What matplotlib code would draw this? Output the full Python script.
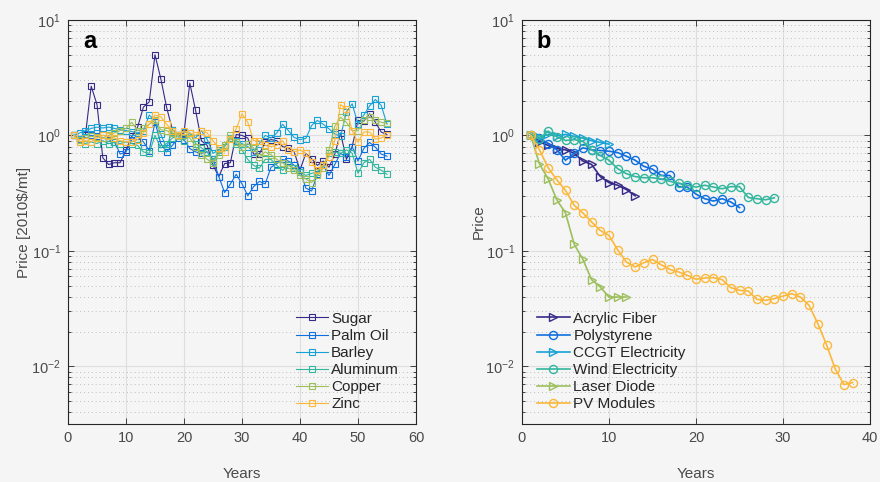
import numpy as np
import matplotlib
matplotlib.use("Agg")
import matplotlib.pyplot as plt
from matplotlib.ticker import LogLocator, NullFormatter, FixedLocator

plt.rcParams['font.family'] = ['Liberation Sans', 'DejaVu Sans']
plt.rcParams['mathtext.fontset'] = 'custom'
plt.rcParams['mathtext.rm'] = 'Liberation Sans'

# ---------------- Panel a data (years 1..55) ----------------
years_a = list(range(1, 56))
sugar = [1.00, 0.93, 1.00, 2.67, 1.85, 0.64, 0.56, 0.58, 0.58, 0.75,
         0.98, 1.18, 1.76, 1.95, 5.00, 3.10, 1.75, 1.12, 1.00, 1.05,
         2.84, 1.65, 0.90, 0.82, 0.55, 0.44, 0.57, 0.58, 1.02, 1.00,
         0.95, 0.69, 0.69, 0.88, 0.92, 0.90, 0.80, 0.78, 0.72, 0.50,
         0.70, 0.63, 0.55, 0.60, 0.53, 0.69, 1.05, 0.62, 0.80, 1.35,
         1.33, 1.54, 1.30, 1.07, 1.02]
palm_oil = [1.00, 0.93, 1.02, 1.00, 0.98, 0.95, 0.92, 0.88, 0.69, 0.72,
            0.92, 0.98, 0.88, 0.74, 1.30, 0.85, 0.72, 0.82, 0.95, 0.92,
            0.77, 0.72, 0.70, 0.72, 0.62, 0.44, 0.32, 0.38, 0.46, 0.38,
            0.30, 0.36, 0.40, 0.38, 0.53, 0.57, 0.62, 0.60, 0.55, 0.50,
            0.35, 0.33, 0.46, 0.55, 0.45, 0.56, 0.70, 0.65, 0.80, 0.60,
            0.77, 0.87, 0.79, 0.69, 0.66]
barley = [1.00, 1.05, 1.10, 1.15, 1.18, 1.16, 1.18, 1.15, 1.12, 1.10,
          1.08, 1.05, 1.10, 1.50, 1.35, 1.02, 0.78, 1.12, 1.00, 1.08,
          1.05, 0.95, 1.10, 0.92, 0.70, 0.75, 0.82, 0.95, 0.90, 0.85,
          0.80, 0.72, 0.85, 1.00, 0.95, 1.05, 1.25, 1.10, 0.96, 0.92,
          0.94, 1.22, 1.35, 1.25, 1.14, 1.03, 0.98, 1.60, 1.88, 1.25,
          1.50, 1.80, 2.05, 1.82, 1.25]
aluminum = [1.00, 0.88, 0.85, 0.88, 0.85, 0.90, 0.85, 0.87, 0.85, 0.88,
            0.85, 0.82, 0.72, 0.70, 1.00, 0.78, 0.85, 0.95, 1.00, 0.90,
            1.05, 0.85, 0.78, 0.72, 0.60, 0.72, 0.80, 0.95, 0.85, 0.75,
            0.62, 0.55, 0.52, 0.62, 0.62, 0.55, 0.50, 0.55, 0.52, 0.48,
            0.45, 0.47, 0.48, 0.55, 0.70, 0.72, 0.70, 0.75, 0.70, 0.47,
            0.58, 0.62, 0.53, 0.50, 0.46]
copper = [1.00, 0.92, 0.95, 0.98, 0.97, 0.95, 1.00, 1.05, 1.10, 1.15,
          1.30, 1.10, 1.15, 1.25, 1.35, 1.12, 1.10, 1.05, 0.98, 1.00,
          0.95, 0.80, 0.68, 0.62, 0.58, 0.68, 0.82, 1.00, 0.88, 0.80,
          0.85, 0.78, 0.65, 0.72, 0.68, 0.62, 0.58, 0.52, 0.50, 0.45,
          0.42, 0.39, 0.45, 0.52, 0.75, 1.20, 1.44, 1.30, 1.10, 1.10,
          1.36, 1.45, 1.35, 1.30, 1.27]
zinc = [1.00, 0.88, 0.90, 0.88, 0.95, 1.00, 0.98, 0.95, 0.90, 0.88,
        0.88, 0.92, 1.05, 1.25, 1.50, 1.45, 1.25, 1.10, 1.00, 1.10,
        1.05, 1.00, 1.10, 1.05, 0.90, 0.78, 0.72, 0.93, 1.14, 1.54,
        1.30, 0.90, 0.90, 0.82, 0.80, 0.82, 0.90, 0.75, 0.72, 0.75,
        0.70, 0.59, 0.50, 0.55, 0.65, 0.90, 1.85, 1.70, 1.10, 0.87,
        1.07, 1.07, 0.93, 0.95, 1.00]

names_a = ["Sugar", "Palm Oil", "Barley", "Aluminum", "Copper", "Zinc"]
series_a = [sugar, palm_oil, barley, aluminum, copper, zinc]

# ---------------- Panel b data ----------------
acrylic_fiber = [1.00, 0.88, 0.82, 0.77, 0.75, 0.70, 0.60, 0.56, 0.44, 0.39,
                 0.37, 0.34, 0.30]
polystyrene = [1.00, 0.95, 0.85, 0.75, 0.61, 0.70, 0.78, 0.75, 0.74, 0.73,
               0.71, 0.66, 0.61, 0.54, 0.51, 0.45, 0.45, 0.36, 0.357, 0.31,
               0.283, 0.27, 0.283, 0.265, 0.237]
ccgt_electricity = [1.00, 0.96, 1.02, 0.99, 1.02, 0.98, 0.95, 0.90, 0.87, 0.84]
wind_electricity = [1.00, 0.935, 1.09, 0.97, 0.905, 0.92, 0.89, 0.75, 0.67, 0.61,
                    0.515, 0.466, 0.44, 0.43, 0.43, 0.42, 0.40, 0.386, 0.37, 0.357,
                    0.37, 0.357, 0.345, 0.36, 0.36, 0.29, 0.283, 0.277, 0.288]
laser_diode = [1.00, 0.569, 0.42, 0.277, 0.213, 0.114, 0.0844, 0.0562, 0.0486,
               0.0398, 0.0398, 0.0398]
pv_modules = [1.00, 0.752, 0.525, 0.413, 0.334, 0.248, 0.213, 0.178, 0.150, 0.136,
              0.102, 0.080, 0.0724, 0.0789, 0.0843, 0.0758, 0.069, 0.0656, 0.0614, 0.0567,
              0.0582, 0.0586, 0.0563, 0.048, 0.0455, 0.0449, 0.038, 0.0373, 0.0385, 0.0406,
              0.0426, 0.0398, 0.0337, 0.0234, 0.0154, 0.0095, 0.00694, 0.00722]

names_b = ["Acrylic Fiber", "Polystyrene", "CCGT Electricity", "Wind Electricity",
           "Laser Diode", "PV Modules"]
series_b = [acrylic_fiber, polystyrene, ccgt_electricity, wind_electricity,
            laser_diode, pv_modules]
markers_b = ['>', 'o', '>', 'o', '>', 'o']

colors = ['#352a87', '#0f6fdf', '#17a2d6', '#33b69e', '#9dbf5c', '#fbb83a']

bg = '#f5f5f5'
fig = plt.figure(figsize=(8.8, 4.82), dpi=100, facecolor=bg)
W, H = 880, 482
ax_a = fig.add_axes([68 / W, (H - 424) / H, 348 / W, 404 / H])
ax_b = fig.add_axes([522 / W, (H - 424) / H, 348 / W, 404 / H])

for name, vals, c in zip(names_a, series_a, colors):
    ax_a.plot(years_a[:len(vals)], vals, color=c, lw=0.8, marker='s',
              ms=4.6, mfc='none', mec=c, mew=0.8, label=name)

for name, vals, c, m in zip(names_b, series_b, colors, markers_b):
    xs = list(range(1, len(vals) + 1))
    ax_b.plot(xs, vals, color=c, lw=1.2, marker=m, ms=5.8, mfc='none',
              mec=c, mew=1.0, label=name)

tick_col = '#4a4a4a'
for ax, xmax in [(ax_a, 60), (ax_b, 40)]:
    ax.set_facecolor(bg)
    ax.set_yscale('log')
    ax.set_ylim(10 ** -2.5, 10)
    ax.set_xlim(0, xmax)
    ax.xaxis.set_major_locator(FixedLocator(list(range(0, xmax + 1, 10))))
    ax.yaxis.set_major_locator(LogLocator(base=10, numticks=10))
    ax.yaxis.set_minor_locator(LogLocator(base=10, subs=np.arange(2, 10), numticks=20))
    ax.yaxis.set_minor_formatter(NullFormatter())
    ax.tick_params(axis='both', which='both', direction='in', top=True, right=True,
                   colors='#262626', labelcolor=tick_col, labelsize=10.5, width=0.6)
    ax.tick_params(axis='both', which='major', length=4, pad=5)
    ax.tick_params(axis='y', which='minor', length=2)
    ax.grid(True, which='major', color='#dedede', lw=0.8, ls='-')
    ax.grid(True, which='minor', axis='y', color='#bdbdbd', lw=0.7, ls=(0, (1, 3)))
    ax.set_axisbelow(True)
    for s in ax.spines.values():
        s.set_color('#262626')
        s.set_linewidth(0.8)
    ax.set_xlabel('Years', fontsize=11, color=tick_col, labelpad=16)

ax_a.set_ylabel('Price [2010\\$/mt]', fontsize=11, color=tick_col, labelpad=0)
ax_b.set_ylabel('Price', fontsize=11, color=tick_col, labelpad=0)

ax_a.text(0.063, 0.946, 'a', transform=ax_a.transAxes, fontsize=17,
          fontweight='bold', ha='center', va='center', color='black')
ax_b.text(0.063, 0.946, 'b', transform=ax_b.transAxes, fontsize=17,
          fontweight='bold', ha='center', va='center', color='black')

leg_a = ax_a.legend(loc='lower left', bbox_to_anchor=(0.655, 0.032), frameon=False,
                    fontsize=11, handlelength=2.1, handletextpad=0.2,
                    labelspacing=0.2, borderpad=0, borderaxespad=0)
leg_b = ax_b.legend(loc='lower left', bbox_to_anchor=(0.042, 0.032), frameon=False,
                    fontsize=11, handlelength=2.2, handletextpad=0.2,
                    labelspacing=0.2, borderpad=0, borderaxespad=0)
for leg in (leg_a, leg_b):
    for t in leg.get_texts():
        t.set_color('#262626')

fig.savefig('out.png', dpi=100, facecolor=bg)
